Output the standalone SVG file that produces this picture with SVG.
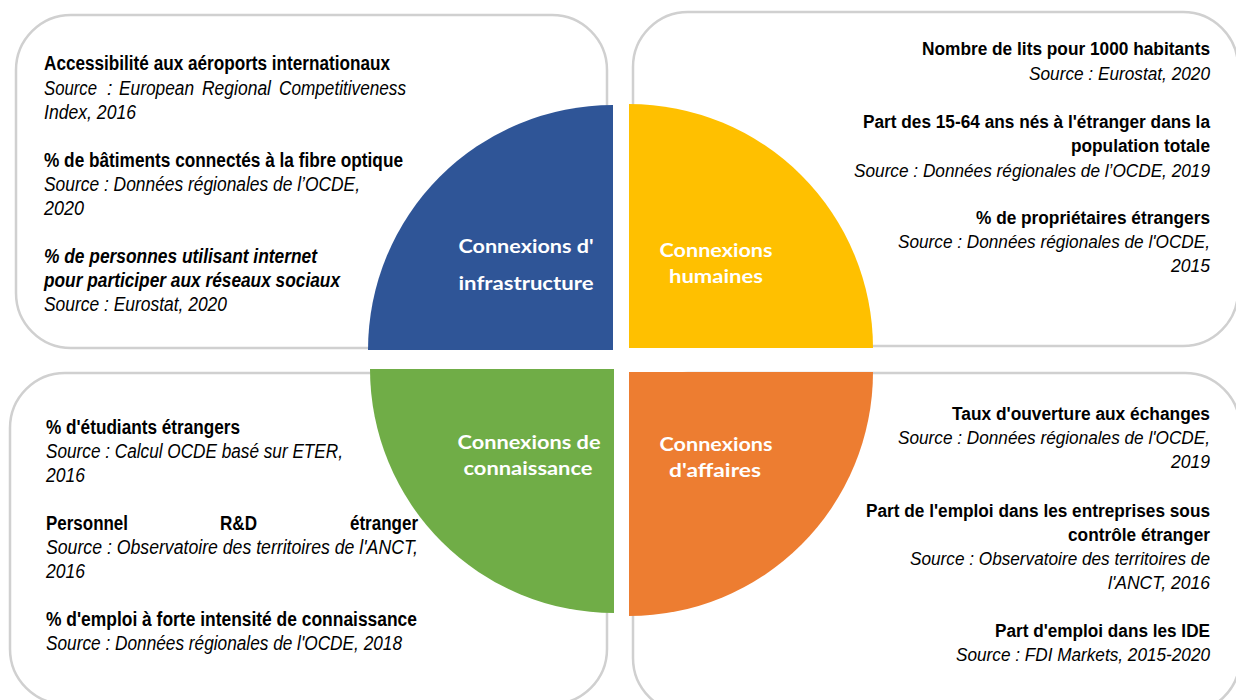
<svg xmlns="http://www.w3.org/2000/svg" width="1236" height="700" viewBox="0 0 1236 700">
<style>
.panel{fill:#fff;stroke:#d0d0d0;stroke-width:2.5}
.t{font-family:"Liberation Sans",Arial,sans-serif;font-size:19.5px;fill:#000}
.rt{font-size:18.3px}
.b{font-weight:bold}
.i{font-style:italic}
.q{font-family:Lato,"Open Sans",sans-serif;font-weight:bold;font-size:19px;fill:#fff;text-anchor:middle}
</style>
<rect width="1236" height="700" fill="#fff"/>
<g id="panel-infrastructure">
<rect class="panel" x="16" y="15" width="591" height="333" rx="55"/>
<text class="t b" x="44" y="70" textLength="346" lengthAdjust="spacingAndGlyphs">Accessibilité aux aéroports internationaux</text>
<text class="t i" x="44" y="95" textLength="53" lengthAdjust="spacingAndGlyphs">Source</text>
<text class="t i" x="107" y="95">:</text>
<text class="t i" x="119" y="95" textLength="75" lengthAdjust="spacingAndGlyphs">European</text>
<text class="t i" x="202" y="95" textLength="69" lengthAdjust="spacingAndGlyphs">Regional</text>
<text class="t i" x="279" y="95" textLength="127" lengthAdjust="spacingAndGlyphs">Competitiveness</text>
<text class="t i" x="44" y="119" textLength="92" lengthAdjust="spacingAndGlyphs">Index, 2016</text>
<text class="t b" x="44" y="167" textLength="359" lengthAdjust="spacingAndGlyphs">% de bâtiments connectés à la fibre optique</text>
<text class="t i" x="44" y="191" textLength="316" lengthAdjust="spacingAndGlyphs">Source : Données régionales de l’OCDE,</text>
<text class="t i" x="44" y="215" textLength="40" lengthAdjust="spacingAndGlyphs">2020</text>
<text class="t b i" x="44" y="263" textLength="273" lengthAdjust="spacingAndGlyphs">% de personnes utilisant internet</text>
<text class="t b i" x="44" y="287" textLength="296" lengthAdjust="spacingAndGlyphs">pour participer aux réseaux sociaux</text>
<text class="t i" x="44" y="311" textLength="183" lengthAdjust="spacingAndGlyphs">Source : Eurostat, 2020</text>
</g>
<g id="panel-humaines">
<rect class="panel" x="633" y="12" width="605" height="334" rx="55"/>
<text class="t rt b" x="922" y="55" textLength="288" lengthAdjust="spacingAndGlyphs">Nombre de lits pour 1000 habitants</text>
<text class="t rt i" x="1029" y="80" textLength="181" lengthAdjust="spacingAndGlyphs">Source : Eurostat, 2020</text>
<text class="t rt b" x="863" y="128" textLength="347" lengthAdjust="spacingAndGlyphs">Part des 15-64 ans nés à l'étranger dans la</text>
<text class="t rt b" x="1071" y="152" textLength="139" lengthAdjust="spacingAndGlyphs">population totale</text>
<text class="t rt i" x="854" y="177" textLength="356" lengthAdjust="spacingAndGlyphs">Source : Données régionales de l’OCDE, 2019</text>
<text class="t rt b" x="976" y="224" textLength="234" lengthAdjust="spacingAndGlyphs">% de propriétaires étrangers</text>
<text class="t rt i" x="898" y="248" textLength="312" lengthAdjust="spacingAndGlyphs">Source : Données régionales de l'OCDE,</text>
<text class="t rt i" x="1171" y="272" textLength="39" lengthAdjust="spacingAndGlyphs">2015</text>
</g>
<g id="panel-connaissance">
<rect class="panel" x="10" y="373" width="597" height="331" rx="55"/>
<text class="t b" x="46" y="434" textLength="194" lengthAdjust="spacingAndGlyphs">% d'étudiants étrangers</text>
<text class="t i" x="46" y="458" textLength="297" lengthAdjust="spacingAndGlyphs">Source : Calcul OCDE basé sur ETER,</text>
<text class="t i" x="46" y="482" textLength="39" lengthAdjust="spacingAndGlyphs">2016</text>
<text class="t b" x="46" y="530" textLength="82" lengthAdjust="spacingAndGlyphs">Personnel</text>
<text class="t b" x="220" y="530" textLength="37" lengthAdjust="spacingAndGlyphs">R&amp;D</text>
<text class="t b" x="350" y="530" textLength="68" lengthAdjust="spacingAndGlyphs">étranger</text>
<text class="t i" x="46" y="554" textLength="372" lengthAdjust="spacingAndGlyphs">Source : Observatoire des territoires de l'ANCT,</text>
<text class="t i" x="46" y="578" textLength="39" lengthAdjust="spacingAndGlyphs">2016</text>
<text class="t b" x="46" y="626" textLength="371" lengthAdjust="spacingAndGlyphs">% d'emploi à forte intensité de connaissance</text>
<text class="t i" x="46" y="650" textLength="356" lengthAdjust="spacingAndGlyphs">Source : Données régionales de l'OCDE, 2018</text>
</g>
<g id="panel-affaires">
<rect class="panel" x="633" y="373" width="607" height="340" rx="55"/>
<text class="t rt b" x="952" y="420" textLength="258" lengthAdjust="spacingAndGlyphs">Taux d'ouverture aux échanges</text>
<text class="t rt i" x="898" y="444" textLength="312" lengthAdjust="spacingAndGlyphs">Source : Données régionales de l'OCDE,</text>
<text class="t rt i" x="1171" y="468" textLength="39" lengthAdjust="spacingAndGlyphs">2019</text>
<text class="t rt b" x="866" y="517" textLength="344" lengthAdjust="spacingAndGlyphs">Part de l'emploi dans les entreprises sous</text>
<text class="t rt b" x="1068" y="541" textLength="142" lengthAdjust="spacingAndGlyphs">contrôle étranger</text>
<text class="t rt i" x="910" y="565" textLength="300" lengthAdjust="spacingAndGlyphs">Source : Observatoire des territoires de</text>
<text class="t rt i" x="1108" y="589" textLength="102" lengthAdjust="spacingAndGlyphs">l'ANCT, 2016</text>
<text class="t rt b" x="995" y="637" textLength="215" lengthAdjust="spacingAndGlyphs">Part d'emploi dans les IDE</text>
<text class="t rt i" x="956" y="661" textLength="254" lengthAdjust="spacingAndGlyphs">Source : FDI Markets, 2015-2020</text>
</g>
<g id="quadrant-infrastructure">
<path d="M613,350 L368,350 A245,245 0 0 1 613,105 Z" fill="#2F5597"/>
<text class="q" x="526" y="253" textLength="135" lengthAdjust="spacingAndGlyphs">Connexions d'</text>
<text class="q" x="526" y="290" textLength="135" lengthAdjust="spacingAndGlyphs">infrastructure</text>
</g>
<g id="quadrant-humaines">
<path d="M629,348 L629,104 A244,244 0 0 1 873,348 Z" fill="#FFC000"/>
<text class="q" x="716" y="257" textLength="113" lengthAdjust="spacingAndGlyphs">Connexions</text>
<text class="q" x="716" y="283" textLength="94" lengthAdjust="spacingAndGlyphs">humaines</text>
</g>
<g id="quadrant-connaissance">
<path d="M614,369 L614,613 A244,244 0 0 1 370,369 Z" fill="#70AD47"/>
<text class="q" x="529" y="449" textLength="143" lengthAdjust="spacingAndGlyphs">Connexions de</text>
<text class="q" x="528" y="475" textLength="129" lengthAdjust="spacingAndGlyphs">connaissance</text>
</g>
<g id="quadrant-affaires">
<path d="M629,372 L873,372 A244,244 0 0 1 629,616 Z" fill="#ED7D31"/>
<text class="q" x="716" y="451" textLength="113" lengthAdjust="spacingAndGlyphs">Connexions</text>
<text class="q" x="715" y="477" textLength="92" lengthAdjust="spacingAndGlyphs">d'affaires</text>
</g>
<g id="connectors"></g>
</svg>
